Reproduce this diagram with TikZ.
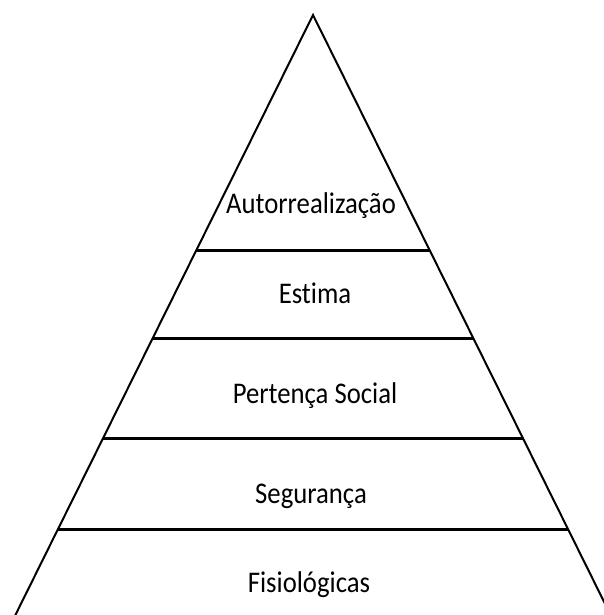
\documentclass[tikz,border=0pt]{standalone}
\usepackage{fontspec}
\setmainfont[FakeStretch=0.89,Ligatures=NoCommon]{Carlito}
\usetikzlibrary{calc}
\tikzset{
  side/.style={line width=2bp, line join=miter},
  level/.style={line width=3bp},
  lab/.style={anchor=base, inner sep=0pt, font=\fontsize{30bp}{36bp}\selectfont}
}
\begin{document}
\begin{tikzpicture}[x=1bp,y=-1bp]
\useasboundingbox (0,0) rectangle (604,615);
\clip (0,0) rectangle (604,615);
\fill[white] (0,0) rectangle (604,615);
\coordinate (apex) at (313,15);
\coordinate (bl) at (313-0.496*605,620);
\coordinate (br) at (313+0.496*605,620);
\draw[side] (bl) -- (apex) -- (br);
\foreach \y/\n in {250/a,339/b,438/c,529/d}{
  \pgfmathsetmacro{\t}{(\y-15)/605}
  \coordinate (l\n) at ($(apex)!\t!(bl)$);
  \coordinate (r\n) at ($(apex)!\t!(br)$);
  \draw[level] (l\n) -- (r\n);
}
\node[lab] (auto) at (311,213) {Autorrealização};
\node[lab] (est) at (315,303) {Estima};
\node[lab] (pert) at (315,403) {Pertença Social};
\node[lab] (seg) at (311,503) {Segurança};
\node[lab] (fis) at (309,592) {Fisiológicas};
\end{tikzpicture}
\end{document}
